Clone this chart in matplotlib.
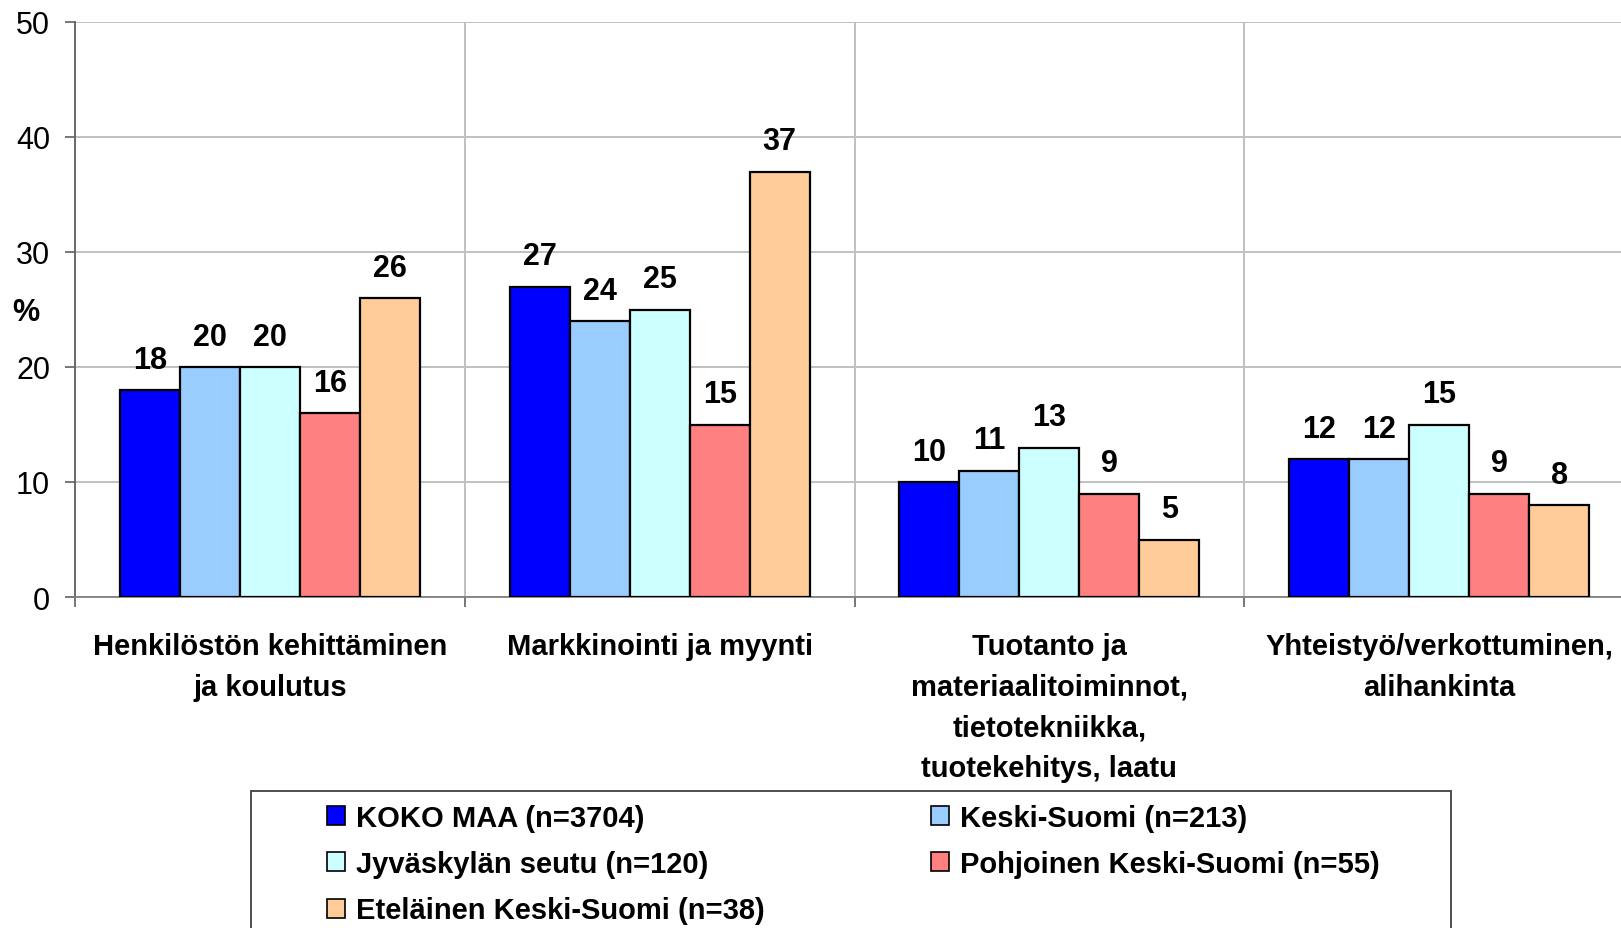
import matplotlib

matplotlib.use("Agg")
import matplotlib.pyplot as plt
import numpy as np
from matplotlib.patches import Patch, Rectangle
from matplotlib.transforms import blended_transform_factory

plt.rcParams["font.family"] = ["Liberation Sans", "DejaVu Sans"]

categories = [
    "Henkilöstön kehittäminen\nja koulutus",
    "Markkinointi ja myynti",
    "Tuotanto ja\nmateriaalitoiminnot,\ntietotekniikka,\ntuotekehitys, laatu",
    "Yhteistyö/verkottuminen,\nalihankinta",
]
series_names = [
    "KOKO MAA (n=3704)",
    "Keski-Suomi (n=213)",
    "Jyväskylän seutu (n=120)",
    "Pohjoinen Keski-Suomi (n=55)",
    "Eteläinen Keski-Suomi (n=38)",
]
koko_maa = [18, 27, 10, 12]
keski_suomi = [20, 24, 11, 12]
jyvaskyla = [20, 25, 13, 15]
pohjoinen = [16, 15, 9, 9]
etelainen = [26, 37, 5, 8]
series_values = [koko_maa, keski_suomi, jyvaskyla, pohjoinen, etelainen]
colors = ["#0000FF", "#99CCFF", "#CCFFFF", "#FF8080", "#FFCC99"]
y_ticks = [0, 10, 20, 30, 40, 50]

W, H = 1621, 929
fig = plt.figure(figsize=(W / 100, H / 100), dpi=100)
# plot area runs slightly past the right edge, as in the reference
ax = fig.add_axes([75 / W, 1 - 598 / H, (1634 - 75) / W, (598 - 23) / H])

x = np.arange(len(categories))
bar_w = 0.154
for k, (vals, col) in enumerate(zip(series_values, colors)):
    pos = x + (k - 2) * bar_w
    ax.bar(pos, vals, width=bar_w, color=col, edgecolor="black", linewidth=1.6, zorder=3)
    for px, v in zip(pos, vals):
        ax.annotate(f"{v}", (px, v), xytext=(0, 16), textcoords="offset points",
                    ha="center", va="baseline", fontsize=22, fontweight="bold", zorder=4)

ax.set_xlim(-0.5, len(categories) - 0.5)
ax.set_ylim(0, 50)
ax.set_yticks(y_ticks)
ax.tick_params(axis="y", labelsize=22, length=7, width=1.2, color="#606060", pad=11)

# category boundaries as major ticks + vertical grid, labels on minor ticks
ax.set_xticks(np.arange(len(categories) + 1) - 0.5)
ax.set_xticklabels([])
ax.set_xticks(x, minor=True)
ax.set_xticklabels(categories, minor=True, fontsize=21, fontweight="bold", linespacing=1.57)
ax.tick_params(axis="x", which="major", length=7, width=1.2, color="#606060")
ax.tick_params(axis="x", which="minor", length=0, pad=25.5)

ax.grid(True, which="major", color="#C0C0C0", linewidth=1.4, zorder=0)
ax.set_axisbelow(True)
for s in ["top", "right"]:
    ax.spines[s].set_visible(False)
ax.spines["left"].set_color("#606060")
ax.spines["bottom"].set_color("#808080")
ax.spines["left"].set_linewidth(1.3)
ax.spines["bottom"].set_linewidth(1.3)

trans = blended_transform_factory(fig.transFigure, ax.transData)
ax.text(26 / W, 24.8, "%", transform=trans, ha="center", va="center",
        fontsize=22, fontweight="bold")

# legend frame (its bottom is cut off by the figure edge in the reference)
fig.patches.append(Rectangle((251 / W, -0.05), (1451 - 251) / W, 0.05 + 1 - 792 / H,
                             transform=fig.transFigure, facecolor="white",
                             edgecolor="#404040", linewidth=1.3, zorder=1))

handles = [Patch(facecolor=c, edgecolor="black", linewidth=1.2) for c in colors]
order = [0, 2, 4, 1, 3]
leg = fig.legend([handles[i] for i in order], [series_names[i] for i in order],
                 ncol=2, loc="center left", bbox_to_anchor=(327 / W, 1 - 865 / H),
                 prop={"weight": "bold", "size": 21}, frameon=False,
                 handlelength=0.62, handleheight=0.62, handletextpad=0.38,
                 columnspacing=5.68, labelspacing=0.63, borderpad=0,
                 borderaxespad=0)
leg.set_zorder(2)

fig.savefig("out.png", dpi=100)
